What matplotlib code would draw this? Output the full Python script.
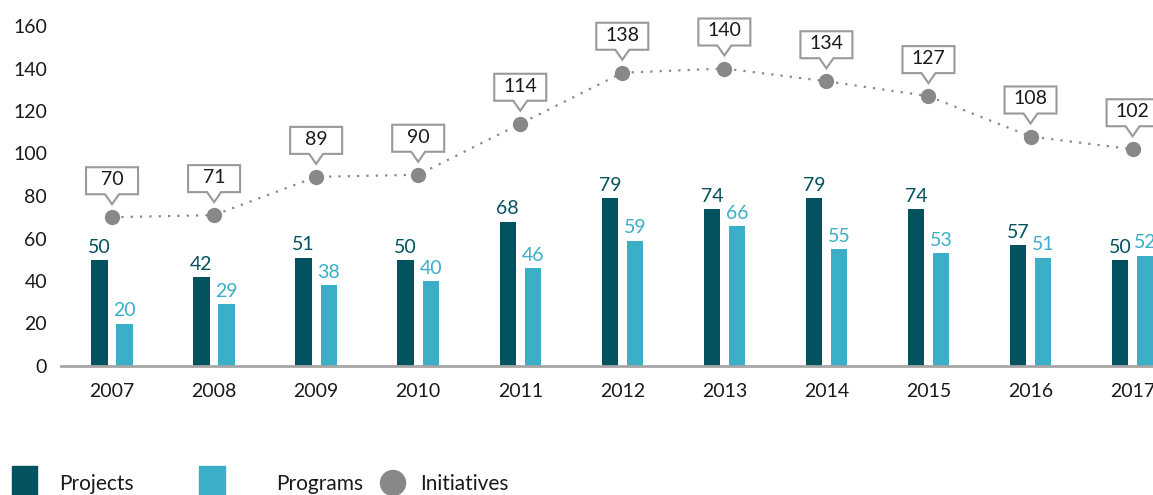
import matplotlib
matplotlib.use("Agg")
import matplotlib.pyplot as plt
import numpy as np
from matplotlib.path import Path
from matplotlib.patches import Rectangle, Circle
from matplotlib.transforms import IdentityTransform

plt.rcParams["font.family"] = ["Lato", "DejaVu Sans"]

years = ["2007", "2008", "2009", "2010", "2011", "2012",
         "2013", "2014", "2015", "2016", "2017"]
projects = [50, 42, 51, 50, 68, 79, 74, 79, 74, 57, 50]
programs = [20, 29, 38, 40, 46, 59, 66, 55, 53, 51, 52]
initiatives = [70, 71, 89, 90, 114, 138, 140, 134, 127, 108, 102]

DARK = "#02525F"
LIGHT = "#3BAFC8"
GREY = "#888888"
TEXT = "#1a1a1a"


def callout(x0, y0, width, height, mutation_size):
    # fixed-size speech box with a small pointer at the bottom
    cx = x0 + width / 2
    cy = y0 + height / 2 - 1
    w, h = 52, 27
    pw, ph = 7, 10
    l, r = cx - w / 2, cx + w / 2
    b, t = cy - h / 2, cy + h / 2
    verts = [(l, b), (cx - pw, b), (cx, b - ph), (cx + pw, b), (r, b),
             (r, t), (l, t), (l, b)]
    return Path(verts, closed=True)


fig = plt.figure(figsize=(11.53, 4.95), dpi=100)
ax = fig.add_axes([61 / 1153, 129 / 495, 1 - 61 / 1153, 340 / 495])

x = np.arange(len(years))
bw = 0.16
off = 0.123
b1 = ax.bar(x - off, projects, bw, color=DARK, zorder=2)
b2 = ax.bar(x + off, programs, bw, color=LIGHT, zorder=2)
ax.bar_label(b1, padding=3, color=DARK, fontsize=14)
ax.bar_label(b2, padding=3, color=LIGHT, fontsize=14)

ax.plot(x, initiatives, color=GREY, lw=1.6, linestyle=(0, (1, 3.2)),
        marker="o", markersize=11, markeredgewidth=0, zorder=3)

for xi, v in zip(x, initiatives):
    ax.annotate(str(v), (xi, v), xytext=(0, 27), textcoords="offset points",
                ha="center", va="center", fontsize=14, color=TEXT,
                bbox=dict(boxstyle=callout, fc="white", ec="#999999", lw=1.5),
                zorder=4)

ax.set_xlim(-0.5, 10.2)
ax.set_ylim(0, 160)
ax.set_yticks(range(0, 161, 20))
ax.set_xticks(x, years)
ax.tick_params(axis="both", length=0, labelsize=14, labelcolor=TEXT)
ax.tick_params(axis="y", pad=10)
ax.tick_params(axis="x", pad=12)
for s in ["top", "right", "left"]:
    ax.spines[s].set_visible(False)
ax.spines["bottom"].set_color("#A6A6A6")
ax.spines["bottom"].set_linewidth(2)
ax.spines["bottom"].set_zorder(5)

# legend along the bottom edge
px = IdentityTransform()
fig.patches.append(Rectangle((12, -4), 25, 33, color=DARK, transform=px, figure=fig))
fig.patches.append(Rectangle((199, -4), 26, 33, color=LIGHT, transform=px, figure=fig))
fig.patches.append(Circle((393, 12), 12.5, color=GREY, transform=px, figure=fig))
for tx, label in [(59, "Projects"), (276, "Programs"), (420, "Initiatives")]:
    fig.text(tx / 1153, 11 / 495, label, fontsize=15, color=TEXT, va="center")

fig.savefig("out.png", dpi=100)
